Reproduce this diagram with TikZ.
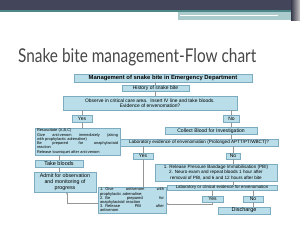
\documentclass[tikz,border=0pt]{standalone}
\usepackage{fontspec}
\setmainfont{Liberation Sans}
\newfontfamily\titlefont{Lato}
\usetikzlibrary{arrows.meta}
\definecolor{boxc}{RGB}{185,222,233}
\definecolor{bordc}{RGB}{125,172,192}
\definecolor{linec}{RGB}{150,150,150}
\definecolor{barc}{RGB}{67,69,90}
\definecolor{tealc}{RGB}{77,136,136}
\definecolor{lteal}{RGB}{172,203,205}
\definecolor{titlec}{RGB}{70,70,70}
\newcommand{\fs}[2]{\fontsize{#1}{#2}\selectfont}
\newcommand{\jline}[1]{\leavevmode\hbox to \hsize{\spaceskip=0.3em plus 1fil\relax #1}}
\begin{document}
\begin{tikzpicture}[x=1pt,y=-1pt,
  fbox/.style={draw=bordc,fill=boxc,line width=0.4pt,inner sep=0pt,align=center},
  conn/.style={draw=linec,line width=0.5pt},
  arr/.style={conn,-{Stealth[length=2.2pt,width=2pt]}}]
\useasboundingbox[fill=white] (0,0) rectangle (300,225);
% top decoration
\fill[barc] (0,0) rectangle (300,9.5);
\fill[tealc] (0,9.5) rectangle (292,12);
\fill[lteal] (178,12) rectangle (295,19.5);
\fill[white] (180,15) rectangle (278,16);
\shade[left color=barc!80!black,right color=gray!40] (291,0) rectangle (300,20);
% title
\node[anchor=base west,inner sep=0pt,text=titlec] (title) at (18,62)
  {\resizebox{238pt}{14pt}{\titlefont Snake bite management-Flow chart}};
% boxes
\node[fbox,minimum width=178,minimum height=8,font=\fs{5.9}{6}\bfseries] (mgmt) at (163,78) {Management of snake bite in Emergency Department};
\node[fbox,minimum width=67,minimum height=6.5,font=\fs{5}{5}] (hist) at (155.5,88) {History of snake bite};
\node[fbox,minimum width=174,minimum height=14,font=\fs{4.9}{5.4}] (obs) at (150,103) {Observe in critical care area.\ \ Insert IV line and take bloods.\\Evidence of envenomation?};
\node[fbox,minimum width=20,minimum height=7,font=\fs{5}{5}] (yes1) at (82,119) {Yes};
\node[fbox,minimum width=16,minimum height=7,font=\fs{5}{5}] (no1) at (231.5,119) {No};
\node[fbox,minimum width=85,minimum height=27,font=\fs{3.9}{4.3},text width=81pt,align=left] (resus) at (77.5,141.5)
  {Resuscitate (A,B,C)\\\jline{Give anti-venom immediately (along}\\with prophylactic adrenaline)\\\jline{Be prepared for anaphylactoid}\\reaction\\Release tourniquet after anti-venom};
\node[fbox,minimum width=92,minimum height=7,font=\fs{5.1}{5}] (collect) at (211,131) {Collect Blood for Investigation};
\node[fbox,minimum width=158,minimum height=7,font=\fs{4.6}{5}] (lab) at (199,142.5) {Laboratory evidence of envenomation (Prolonged APTT/PT/WBCT)?};
\node[fbox,minimum width=20,minimum height=6.5,font=\fs{5}{5}] (yes2) at (143,156) {Yes};
\node[fbox,minimum width=14,minimum height=6.5,font=\fs{5}{5}] (no2) at (233,156) {No};
\node[fbox,minimum width=48,minimum height=7,font=\fs{5.5}{5}] (take) at (59,164) {Take bloods};
\node[fbox,minimum width=62,minimum height=20,font=\fs{5.3}{5.8}] (admit) at (65,182) {Admit for observation\\and monitoring of\\progress};
\node[fbox,minimum width=122,minimum height=17,font=\fs{4.6}{5.2}] (rel) at (216,172.5) {1. Release Pressure Bandage Immobilisation (PBI)\\2. Neuro exam and repeat bloods 1 hour after\\removal of PBI, and 6 and 12 hours after bite};
\node[fbox,minimum width=68,minimum height=26,font=\fs{4}{4.2},text width=64pt,align=left] (give) at (132,200)
  {\jline{1. Give antivenom with}\\prophylactic adrenaline;\\\jline{2. Be prepared for}\\anaphylactoid reaction\\\jline{3. Release PBI after}\\antivenom};
\node[fbox,minimum width=110,minimum height=5.5,font=\fs{4.3}{4.5}] (labc) at (222,187.5) {Laboratory or clinical evidence for envenomation};
\node[fbox,minimum width=21,minimum height=6,font=\fs{5}{5}] (yes3) at (212.5,199) {Yes};
\node[fbox,minimum width=20,minimum height=6,font=\fs{5}{5}] (no3) at (253,199) {No};
\node[fbox,minimum width=52,minimum height=7,font=\fs{5.5}{5}] (dis) at (244,210.5) {Discharge};
\coordinate (j1) at (212.5,204);
\coordinate (j2) at (67,203);
% connectors
\draw[conn] (mgmt.south -| hist) -- (hist.north);
\draw[conn] (hist.south) -- (hist.south |- obs.north);
\draw[conn] (yes1.north |- obs.south) -- (yes1.north);
\draw[conn] (no1.north |- obs.south) -- (no1.north);
\draw[conn] (yes1.south) -- (yes1.south |- resus.north);
\draw[conn] (take.north |- resus.south) -- (take.north);
\draw[conn] (take.south) -- (take.south |- admit.north);
\draw[conn] (no1.south) -- (no1.south |- collect.north);
\draw[conn] (collect.south -| no1) -- (no1 |- lab.north);
\draw[conn] (yes2.north |- lab.south) -- (yes2.north);
\draw[conn] (no2.north |- lab.south) -- (no2.north);
\draw[conn] (yes2.south) -- (yes2.south |- give.north);
\draw[conn] (no2.south) -- (no2.south |- rel.north);
\draw[conn] (rel.south -| no2) -- (no2 |- labc.north);
\draw[conn] (yes3.north |- labc.south) -- (yes3.north);
\draw[conn] (no3.north |- labc.south) -- (no3.north);
\draw[conn] (no3.south) -- (no3.south |- dis.north);
\draw[arr] (yes3.south) -- (j1) -- (j1 -| give.east);
\draw[arr] (give.west |- j2) -- (j2) -- (j2 |- admit.south);
\end{tikzpicture}
\end{document}
